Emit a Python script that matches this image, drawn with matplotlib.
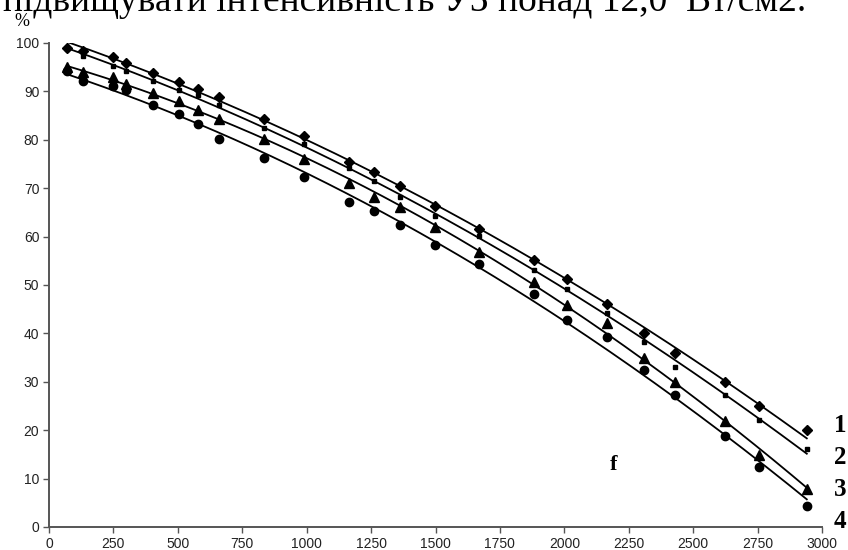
import numpy as np
import matplotlib
matplotlib.use("Agg")
import matplotlib.pyplot as plt

# frequency values (shared by all four series)
x = [70, 132, 250, 298, 402, 503, 579, 658, 836, 988, 1163, 1260, 1364,
     1498, 1668, 1884, 2012, 2166, 2309, 2431, 2625, 2756, 2941]

s1 = [99.0, 98.4, 97.2, 95.9, 93.7, 92.0, 90.4, 88.8, 84.4, 80.8, 75.5, 73.4,
      70.5, 66.4, 61.6, 55.2, 51.2, 46.0, 40.0, 36.0, 30.0, 25.1, 20.0]
s2 = [98.8, 97.3, 95.3, 94.3, 92.2, 90.3, 89.3, 87.2, 82.4, 79.1, 74.2, 71.5,
      68.1, 64.3, 60.2, 53.2, 49.1, 44.2, 38.2, 33.1, 27.3, 22.2, 16.1]
s3 = [95.1, 94.1, 92.9, 91.5, 89.6, 88.0, 86.2, 84.2, 80.1, 76.0, 71.0, 68.1,
      66.2, 61.9, 56.8, 50.7, 45.9, 42.1, 34.9, 29.9, 21.9, 14.9, 7.8]
s4 = [94.2, 92.2, 91.2, 90.3, 87.2, 85.3, 83.2, 80.2, 76.2, 72.3, 67.2, 65.3,
      62.3, 58.3, 54.3, 48.1, 42.8, 39.2, 32.4, 27.3, 18.7, 12.3, 4.3]

x_ticks = [0, 250, 500, 750, 1000, 1250, 1500, 1750, 2000, 2250, 2500, 2750, 3000]
y_ticks = [0, 10, 20, 30, 40, 50, 60, 70, 80, 90, 100]

title = "підвищувати інтенсивність УЗ понад 12,0  Вт/см2."

fig = plt.figure(figsize=(8.48, 5.5), dpi=100)
ax = fig.add_axes([49 / 848, 1 - 527 / 550, 773 / 848, 484 / 550])

series = [(s1, "D", 5), (s2, "s", 3.5), (s3, "^", 6.5), (s4, "o", 6)]
xa = np.array(x, dtype=float)
xs = np.linspace(xa[0], xa[-1], 200)
for ys, mk, ms in series:
    ax.plot(x, ys, linestyle="none", marker=mk, markersize=ms, color="black")
    # polynomial trendline, as in the original
    coef = np.polyfit(xa, ys, 2)
    ax.plot(xs, np.polyval(coef, xs), color="black", linewidth=1.3)

ax.set_xlim(0, 3000)
ax.set_ylim(0, 100)
ax.set_xticks(x_ticks)
ax.set_yticks(y_ticks)
for lab in ax.get_xticklabels() + ax.get_yticklabels():
    lab.set_fontfamily("Liberation Sans")
    lab.set_fontsize(10)
    lab.set_color("#222222")
ax.tick_params(direction="out", length=4, width=1, color="#555555", pad=3)
for side in ["top", "right"]:
    ax.spines[side].set_visible(False)
for side in ["left", "bottom"]:
    ax.spines[side].set_color("#555555")
    ax.spines[side].set_linewidth(1.4)

serif = "Liberation Serif"
fig.text(3 / 848, 1 - 11 / 550, title, family=serif, fontsize=27,
         va="baseline", ha="left")
fig.text(14 / 848, 1 - 26 / 550, "%", family=serif, fontsize=13,
         va="baseline", ha="left")

fig.text(614 / 848, 1 - 465 / 550, "f", family=serif,
         fontsize=16, fontweight="bold", ha="center", va="center")
for lab, py in [("1", 426), ("2", 458), ("3", 490), ("4", 521)]:
    fig.text(840 / 848, 1 - py / 550, lab, family=serif, fontsize=18,
             fontweight="bold", ha="center", va="center")

fig.savefig("out.png", dpi=100)
